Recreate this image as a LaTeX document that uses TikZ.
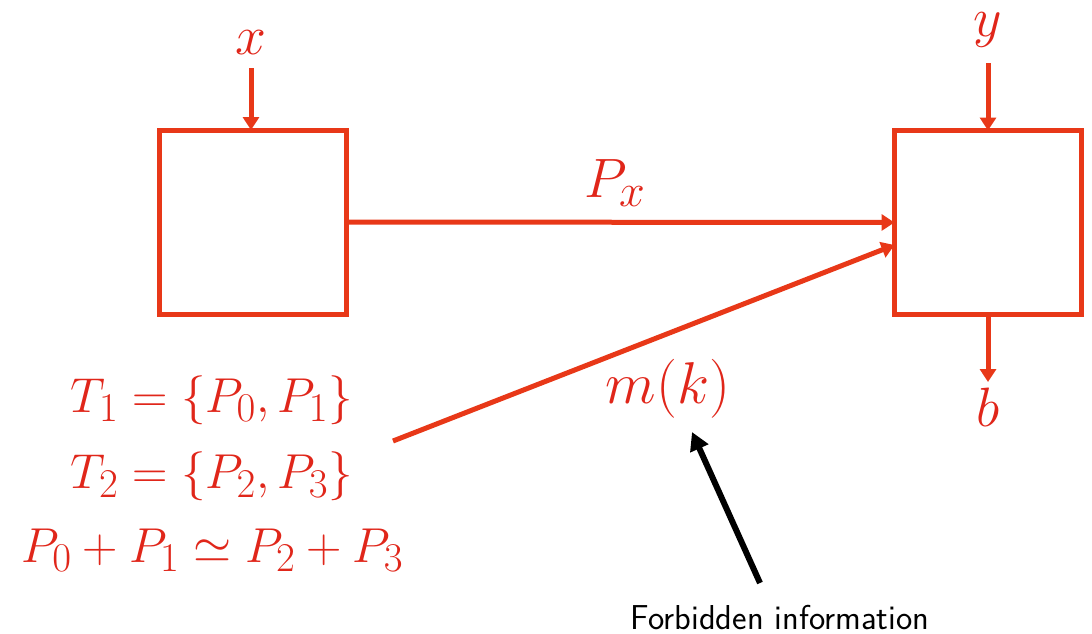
\documentclass[tikz,border=0pt]{standalone}
\usetikzlibrary{arrows.meta}
\definecolor{cred}{RGB}{232,56,24}
\definecolor{tred}{RGB}{224,38,26}
\begin{document}
\begin{tikzpicture}[x=1pt,y=-1pt,
  box/.style={draw=cred,line width=5pt,minimum width=187pt,minimum height=184pt,inner sep=0pt,outer sep=0pt},
  flow/.style={draw=cred,line width=5pt,-{Triangle[length=13pt,width=16pt]}},
  lbl/.style={text=tred,inner sep=0pt,font=\Huge,scale=2.23},
  eq/.style={text=tred,inner sep=0pt,font=\Huge,scale=1.97},
  note/.style={inner sep=0pt,font=\sffamily\Huge,scale=1.39}]
\useasboundingbox (0,0) rectangle (1092,633);
\node[box] (A) at (253,222) {};
\node[box] (B) at (988,222.5) {};
\node[lbl] (x) at (251,43) {$x$};
\node[lbl] (y) at (988,30) {$y$};
\node[lbl] (b) at (988,407) {$b$};
\node[lbl] (px) at (615,183) {$P_x$};
\node[lbl,scale=1.063] (mk) at (668,389) {$m(k)$};
\node[eq] (t1) at (212,400) {$T_1=\{P_0,P_1\}$};
\node[eq] (t2) at (212,476) {$T_2=\{P_2,P_3\}$};
\node[eq] (t3) at (212.5,550) {$P_0+P_1\simeq P_2+P_3$};
\node[note] (fi) at (780,617) {Forbidden information};
\coordinate (xs) at (251,68);
\coordinate (ys) at (988,63);
\coordinate (be) at (988,382);
\coordinate (ds) at (393,441);
\coordinate (fs) at (760,583);
\coordinate (fe) at (692,432);
\draw[flow] (xs) -- (xs |- A.north);
\draw[flow] (ys) -- (ys |- B.north);
\draw[flow] (B.south) -- (be);
\draw[flow] (A.east) -- (B.west);
\draw[flow] (ds) -- (B.west |- 0,245);
\draw[line width=6pt,-{Triangle[length=18pt,width=19pt]}] (fs) -- (fe);
\end{tikzpicture}
\end{document}
